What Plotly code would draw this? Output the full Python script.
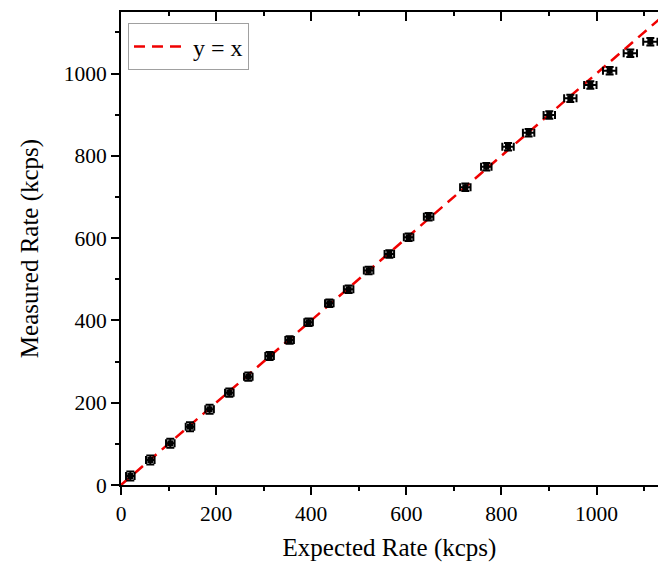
import plotly.graph_objects as go

expected = [19.6, 61.6, 103.7, 145.1, 186.3, 227.8, 267.7, 312.5, 354.6, 394.5,
            438.1, 478.7, 520.7, 564.3, 604.8, 646.9, 724.1, 768.2, 813.9, 857.2,
            900.7, 944.9, 987.0, 1027.6, 1071.1, 1113.2]
measured = [21.9, 60.8, 101.3, 141.7, 184.0, 224.3, 263.2, 313.5, 352.4, 395.4,
            441.6, 475.6, 521.3, 561.4, 601.9, 652.0, 723.5, 773.5, 822.1, 856.1,
            899.2, 939.7, 972.1, 1006.8, 1049.1, 1077.3]
expected_err = [9, 9, 9, 9, 9, 9, 9, 9, 9, 9,
                9, 10, 10, 10, 10, 10, 11, 11, 12, 12,
                12, 13, 13, 14, 14, 15]
measured_err = [11, 11, 11, 11, 11, 10, 10, 10, 9, 9,
                9, 9, 9, 9, 9, 9, 9, 9, 9, 9,
                9, 9, 9, 9, 9, 9]
ref_line = [0, 1200]

FONT = "Liberation Serif"

fig = go.Figure()
fig.add_trace(go.Scatter(
    x=ref_line, y=ref_line, mode="lines", name="y = x",
    line=dict(color="#f00000", width=2.5, dash="11px,7px"),
))
fig.add_trace(go.Scatter(
    x=expected, y=measured, mode="markers", showlegend=False,
    marker=dict(symbol="square", size=6, color="black"),
    error_x=dict(type="data", array=expected_err, color="black", thickness=2, width=4),
    error_y=dict(type="data", array=measured_err, color="black", thickness=2, width=4),
))

axis_common = dict(
    showline=True, linecolor="black", linewidth=2, showgrid=False, zeroline=False,
    ticks="outside", ticklen=8, tickwidth=2, tickcolor="black",
    tickfont=dict(family=FONT, size=21.5, color="black"),
    dtick=200, tick0=0,
    minor=dict(ticks="outside", ticklen=4, tickwidth=2, tickcolor="black", dtick=100),
)

fig.update_layout(
    width=658, height=565,
    margin=dict(l=121, r=0, t=12, b=80),
    plot_bgcolor="white", paper_bgcolor="white",
    xaxis=dict(range=[0, 1129.3], title=dict(text="Expected Rate (kcps)",
               font=dict(family=FONT, size=25, color="black"), standoff=14), **axis_common),
    yaxis=dict(range=[0, 1149.5], title=dict(text="Measured Rate (kcps)",
               font=dict(family=FONT, size=25, color="black"), standoff=18), **axis_common),
    xaxis2=dict(range=[0, 1129.3], overlaying="x", side="top", showline=True, linecolor="black",
                linewidth=2, showgrid=False, zeroline=False, ticks="inside", ticklen=9, tickwidth=2,
                tickcolor="black", showticklabels=False, dtick=200, tick0=0,
                minor=dict(ticks="inside", ticklen=4, tickwidth=2, tickcolor="black", dtick=100)),
    legend=dict(x=0.013, y=0.976, xanchor="left", yanchor="top", itemwidth=54,
                bgcolor="white", bordercolor="#a0a0a0", borderwidth=1,
                font=dict(family=FONT, size=24, color="black")),
)
fig.add_trace(go.Scatter(x=[None], y=[None], xaxis="x2", showlegend=False, hoverinfo="skip"))

fig.write_html("out.html")
